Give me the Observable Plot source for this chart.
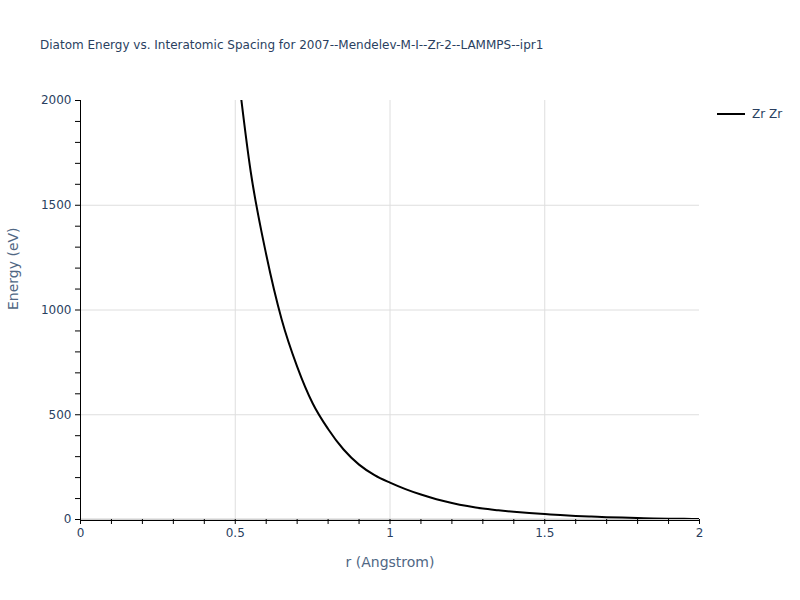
<!DOCTYPE html>
<html>
<head>
<meta charset="utf-8">
<script src="https://cdn.jsdelivr.net/npm/d3@7"></script>
<script src="https://cdn.jsdelivr.net/npm/@observablehq/plot@0.6"></script>
<style>
  html, body { margin: 0; padding: 0; background: #fff; }
  #wrap { position: relative; width: 800px; height: 600px; font-family: "DejaVu Sans", sans-serif; }
  #title { position: absolute; left: 40px; top: 38px; font-size: 12px; color: #2a3f5f; white-space: nowrap; }
  #legend { position: absolute; left: 717px; top: 107px; font-size: 12px; color: #2a3f5f; display: flex; align-items: center; white-space: nowrap; }
  #legend .sw { width: 28px; height: 2px; background: #000; margin-right: 7px; }
  #chart { position: absolute; left: 0; top: 0; }
</style>
</head>
<body>
<div id="wrap">
  <div id="chart"></div>
  <div id="title">Diatom Energy vs. Interatomic Spacing for 2007--Mendelev-M-I--Zr-2--LAMMPS--ipr1</div>
  <div id="legend"><div class="sw"></div><span>Zr Zr</span></div>
</div>
<script>
const seriesName = "Zr Zr";
const xTitle = "r (Angstrom)";
const yTitle = "Energy (eV)";
const rValues = [0.50, 0.55, 0.60, 0.65, 0.70, 0.75, 0.80, 0.85, 0.90, 0.95, 1.00, 1.05, 1.10, 1.15, 1.20, 1.25, 1.30, 1.35, 1.40, 1.45, 1.50, 1.55, 1.60, 1.65, 1.70, 1.75, 1.80, 1.85, 1.90, 1.95, 2.00];
const energyValues = [2250, 1660, 1265, 955, 730, 555, 432, 334, 262, 212, 176, 145, 119, 97, 79, 64, 52, 44, 37, 31, 26, 21, 17, 14, 11, 9, 7, 5, 4, 3, 2];
const xTicks = d3.range(0, 21).map(i => i / 10);
const xLabelTicks = [0, 0.5, 1, 1.5, 2];
const xGrid = [0.5, 1, 1.5];
const yTicks = d3.range(0, 21).map(i => i * 100);
const yLabelTicks = [0, 500, 1000, 1500, 2000];
const yGrid = [500, 1000, 1500];

const data = rValues.map((r, i) => ({r, e: energyValues[i]}));
const fmtX = d => xLabelTicks.some(t => Math.abs(t - d) < 1e-9) ? String(+d.toFixed(2)) : "";
const fmtY = d => yLabelTicks.includes(d) ? String(d) : "";

const chart = Plot.plot({
  width: 800,
  height: 600,
  marginLeft: 80,
  marginRight: 101,
  marginTop: 100,
  marginBottom: 81,
  style: { fontFamily: '"DejaVu Sans", sans-serif', fontSize: "12px", color: "#2a3f5f", background: "white" },
  x: { domain: [0, 2] },
  y: { domain: [0, 2000] },
  marks: [
    Plot.gridX(xGrid, { stroke: "#dedede", strokeOpacity: 1 }),
    Plot.gridY(yGrid, { stroke: "#dedede", strokeOpacity: 1 }),
    Plot.ruleY([0], { stroke: "#d0d0d0", strokeWidth: 2 }),
    Plot.line(data, { x: "r", y: "e", stroke: "#000", strokeWidth: 2, clip: true, curve: "monotone-x" }),
    Plot.axisX(xTicks, { tickSize: 5, tickPadding: 4, tickFormat: fmtX, stroke: "#000", fill: "#2a3f5f", label: null, fontSize: 12 }),
    Plot.axisY(yTicks, { tickSize: 5, tickPadding: 4, tickFormat: fmtY, stroke: "#000", fill: "#2a3f5f", label: null, fontSize: 12 }),
    Plot.text([xTitle], { frameAnchor: "bottom", dy: 47, fontSize: 14, fill: "#506784" }),
    Plot.text([yTitle], { frameAnchor: "left", dx: -67, rotate: -90, fontSize: 14, fill: "#506784" }),
    Plot.ruleY([0], { stroke: "#000", strokeWidth: 1, dy: 1 }),
    Plot.ruleX([0], { stroke: "#000", strokeWidth: 1, y1: 0, y2: 2000 })
  ]
});
document.getElementById("chart").appendChild(chart);
</script>
</body>
</html>
